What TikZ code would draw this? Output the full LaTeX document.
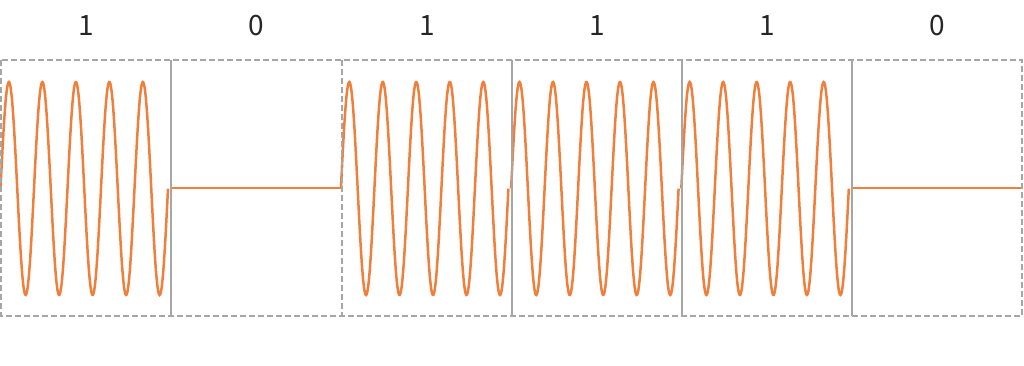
\documentclass[tikz,border=0pt]{standalone}
\usepackage{fontspec}
\newfontfamily\lblfont{Noto Sans CJK JP}
\definecolor{boxgray}{HTML}{A6A6A6}
\definecolor{waveor}{HTML}{F07F3C}
\begin{document}
\begin{tikzpicture}[x=1pt,y=-1pt,
  frame/.style={draw=boxgray,line width=2.6pt,dash pattern=on 6pt off 3pt},
  divider/.style={draw=boxgray,line width=2.8pt},
  dashdiv/.style={draw=boxgray,line width=2.6pt,dash pattern=on 6pt off 3pt},
  wave/.style={draw=waveor,line width=2.5pt},
  bit/.style={font=\lblfont\fontsize{28}{32}\selectfont,text=black!85,inner sep=0pt}]
\useasboundingbox (0,0) rectangle (1024,366);
% bit labels
\foreach \i/\b in {0/1,1/0,2/1,3/1,4/1,5/0}{
  \node[bit] (b\i) at ({86.5+170.2*\i},26) {\b};
}
% waves
\foreach \i in {0,2,3,4}{
  \draw[wave] plot[smooth,samples=300,domain=0:167.5] ({0.5+170.2*\i+\x},{188.5-106.5*sin(\x*10.746)});
}
% flat lines
\draw[wave] (171,188) -- (342,188);
\draw[wave] (852,188) -- (1022,188);
% frame
\draw[frame] (1,60) rectangle (1022,316);
\draw[divider] (171,60) -- (171,316);
\draw[dashdiv] (342,60) -- (342,316);
\draw[divider] (512,60) -- (512,316);
\draw[divider] (682,60) -- (682,316);
\draw[divider] (852,60) -- (852,316);
\end{tikzpicture}
\end{document}
